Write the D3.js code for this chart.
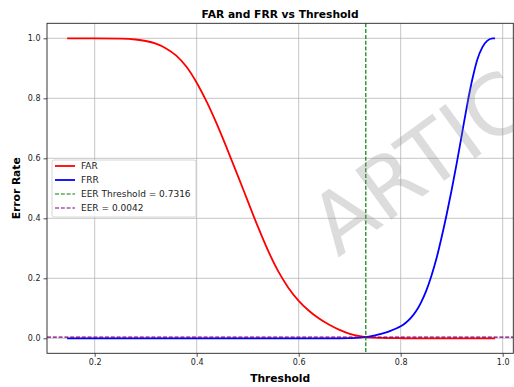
<!DOCTYPE html>
<html><head><meta charset="utf-8">
<script src="https://cdn.jsdelivr.net/npm/d3@7/dist/d3.min.js"></script>
<style>body{margin:0;background:#fff}svg{display:block}text{font-family:"DejaVu Sans",sans-serif}</style>
</head><body><svg id="c" width="514" height="387"></svg>
<script>
const thresholds = [0.146,0.20,0.25,0.28,0.30,0.32,0.34,0.36,0.38,0.40,0.42,0.44,0.46,0.48,0.50,0.52,0.54,0.56,0.58,0.60,0.62,0.64,0.66,0.68,0.70,0.72,0.7316,0.74,0.75,0.76,0.77,0.78,0.79,0.80,0.81,0.82,0.83,0.84,0.85,0.86,0.87,0.88,0.89,0.90,0.91,0.92,0.93,0.94,0.95,0.96,0.97,0.98,0.985];
const farValues = [1.0,1.0,0.999,0.996,0.991,0.982,0.966,0.942,0.905,0.852,0.787,0.712,0.630,0.545,0.458,0.372,0.292,0.223,0.168,0.125,0.092,0.066,0.045,0.028,0.015,0.007,0.0042,0.003,0.002,0.0015,0.001,0.0008,0.0005,0.0003,0,0,0,0,0,0,0,0,0,0,0,0,0,0,0,0,0,0,0];
const frrValues = [0,0,0,0,0,0,0,0,0,0,0,0,0,0,0,0,0,0,0,0,0,0,0,0,0.0005,0.002,0.0042,0.006,0.010,0.014,0.019,0.025,0.032,0.040,0.052,0.068,0.090,0.120,0.158,0.207,0.265,0.335,0.412,0.495,0.585,0.680,0.775,0.860,0.928,0.970,0.992,1.0,1.0];
const xTicks = [0.2,0.4,0.6,0.8,1.0];
const yTicks = [0.0,0.2,0.4,0.6,0.8,1.0];
const eerThreshold = 0.7316;
const eer = 0.0042;
const legendLabels = ["FAR","FRR","EER Threshold = 0.7316","EER = 0.0042"];
const titleText = "FAR and FRR vs Threshold";
const xLabel = "Threshold", yLabel = "Error Rate";
const watermark = "ARTIC";

const svg = d3.select("#c");
const L=47, R=513.3, T=23.3, B=353.3;
const x = d3.scaleLinear().domain([0.1065,1.0208]).range([L,R]);
const y = d3.scaleLinear().domain([-0.05,1.05]).range([B,T]);

// grid
const g = svg.append("g");
g.selectAll(".gx").data(xTicks).join("line").attr("x1",d=>x(d)).attr("x2",d=>x(d)).attr("y1",T).attr("y2",B)
 .attr("stroke","#b0b0b0").attr("stroke-width",0.8).attr("opacity",0.9);
g.selectAll(".gy").data(yTicks).join("line").attr("y1",d=>y(d)).attr("y2",d=>y(d)).attr("x1",L).attr("x2",R)
 .attr("stroke","#b0b0b0").attr("stroke-width",0.8).attr("opacity",0.9);

svg.append("clipPath").attr("id","clp").append("rect").attr("x",L).attr("y",T).attr("width",R-L).attr("height",B-T);
const plot = svg.append("g").attr("clip-path","url(#clp)");
const line = (vals)=>d3.line().x((d,i)=>x(thresholds[i])).y(d=>y(d)).curve(d3.curveMonotoneX)(vals);
plot.append("path").attr("d",line(farValues)).attr("fill","none").attr("stroke","#ff0000").attr("stroke-width",1.8);
plot.append("path").attr("d",line(frrValues)).attr("fill","none").attr("stroke","#0000ff").attr("stroke-width",1.8);
plot.append("line").attr("x1",x(eerThreshold)).attr("x2",x(eerThreshold)).attr("y1",T).attr("y2",B)
 .attr("stroke","#008000").attr("stroke-width",1.2).attr("stroke-dasharray","4,1.8");
plot.append("line").attr("x1",L).attr("x2",R).attr("y1",y(eer)).attr("y2",y(eer))
 .attr("stroke","#800080").attr("stroke-width",1.2).attr("stroke-dasharray","4,1.8");

// axes
const ax = svg.append("g").attr("transform",`translate(0,${B})`).call(d3.axisBottom(x).tickValues(xTicks).tickFormat(d3.format(".1f")).tickSize(3.5).tickPadding(3));
const ay = svg.append("g").attr("transform",`translate(${L},0)`).call(d3.axisLeft(y).tickValues(yTicks).tickFormat(d3.format(".1f")).tickSize(3.5).tickPadding(3));
[ax,ay].forEach(a=>{a.select(".domain").remove();a.selectAll("text").attr("font-size",8).attr("fill","#222").attr("font-family","DejaVu Sans");a.selectAll("line").attr("stroke","#222").attr("stroke-width",0.8);});
svg.append("rect").attr("x",L).attr("y",T).attr("width",R-L).attr("height",B-T).attr("fill","none").attr("stroke","#222").attr("stroke-width",0.9);

svg.append("text").attr("x",(L+R)/2).attr("y",18).attr("text-anchor","middle").attr("font-weight","bold").attr("font-size",10.7).text(titleText);
svg.append("text").attr("x",(L+R)/2).attr("y",382).attr("text-anchor","middle").attr("font-weight","bold").attr("font-size",10.7).text(xLabel);
svg.append("text").attr("transform",`translate(20,${(T+B)/2}) rotate(-90)`).attr("text-anchor","middle").attr("font-weight","bold").attr("font-size",10.7).text(yLabel);

// legend
const lg = svg.append("g").attr("transform","translate(52,160)");
lg.append("rect").attr("width",144).attr("height",57).attr("rx",2).attr("fill","#fff").attr("fill-opacity",0.8).attr("stroke","#cccccc").attr("stroke-width",0.8);
const lcol = ["#ff0000","#0000ff","#008000","#800080"];
const ldash = [null,null,"4,1.8","4,1.8"];
const lw = [1.8,1.8,1.2,1.2];
legendLabels.forEach((t,i)=>{
  const yy = 6+i*14;
  lg.append("line").attr("x1",3).attr("x2",23).attr("y1",yy).attr("y2",yy).attr("stroke",lcol[i]).attr("stroke-width",lw[i]).attr("stroke-dasharray",ldash[i]);
  lg.append("text").attr("x",29).attr("y",yy+3.2).attr("font-size",9).attr("fill","#222").text(t);
});

// watermark
svg.append("text").attr("transform","translate(338,258) rotate(-36)").attr("font-family","DejaVu Sans Mono").attr("font-size",84)
 .attr("fill","#808080").attr("fill-opacity",0.28).text(watermark);
</script></body></html>
